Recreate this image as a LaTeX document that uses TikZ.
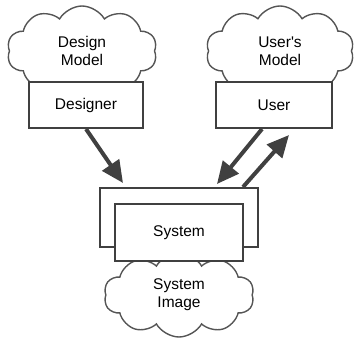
\documentclass[tikz,border=0pt]{standalone}
\usepackage{fontspec}
\setsansfont{Liberation Sans}[Ligatures=TeXOff]
\usetikzlibrary{arrows.meta,positioning,shapes.symbols}
\definecolor{LineGrey}{HTML}{404040}
\definecolor{CloudGrey}{HTML}{555555}

\begin{document}
\begin{tikzpicture}[x=1pt, y=-1pt,
  cloudy/.style={cloud, cloud puffs=10, cloud puff arc=120, cloud ignores aspect,
                 draw=CloudGrey, line width=1.4pt, fill=white, align=center,
                 inner sep=0pt, font=\sffamily\fontsize{15.5}{18}\selectfont},
  actor/.style={draw=LineGrey, line width=2pt, fill=white, inner sep=0pt,
                font=\sffamily\fontsize{15.5}{18}\selectfont},
  bigarr/.style={draw=LineGrey, line width=4pt, -{Triangle[length=22pt,width=20pt]}}]
  \useasboundingbox (0,0) rectangle (359,348);
  % the two models and who holds them
  \node[cloudy, minimum width=150pt, minimum height=90pt] (designmodel) at (82,51) {Design\\Model};
  \node[actor, minimum width=114pt, minimum height=46pt] (designer) at (86,105) {Designer};
  \node[cloudy, minimum width=148pt, minimum height=90pt] (usersmodel) at (280,51) {User's\\Model};
  \node[actor, minimum width=116pt, minimum height=46pt] (user) at (274,105) {User};
  % the system and its image
  \node[actor, minimum width=158pt, minimum height=59pt] (sysouter) at (179,217.5) {};
  \node[cloudy, minimum width=150pt, minimum height=84pt] (sysimage) at (179,295) {System\\Image};
  \node[actor, minimum width=128pt, minimum height=57pt] (system) at (179,232.5) {System};
  % arrows
  \coordinate (dtip) at (123,183);
  \coordinate (utip) at (217,184);
  \coordinate (uptip) at (289,135);
  \draw[bigarr] (designer.south) -- (dtip);
  \draw[bigarr] ([xshift=-12pt]user.south) -- (utip);
  \draw[bigarr] ([xshift=64pt]sysouter.north) -- (uptip);
\end{tikzpicture}
\end{document}
